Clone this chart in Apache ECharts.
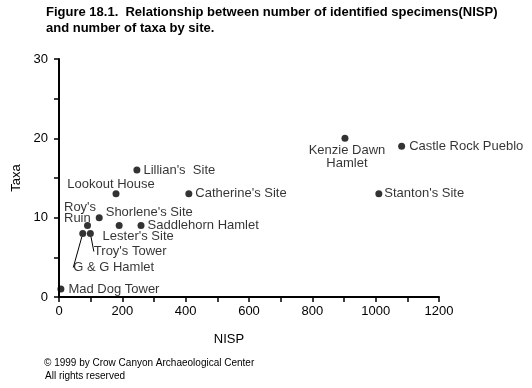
<!DOCTYPE html>
<html>
<head>
<meta charset="utf-8">
<script src="https://cdn.jsdelivr.net/npm/echarts@6/dist/echarts.min.js"></script>
<style>html,body{margin:0;padding:0;background:#fff;}#c{width:532px;height:388px;}</style>
</head>
<body>
<div id="c"></div>
<script>
// ---- data ----
var sites = ["Mad Dog Tower", "G & G Hamlet", "Troy's Tower", "Roy's Ruin", "Shorlene's Site", "Lester's Site", "Saddlehorn Hamlet", "Lookout House", "Lillian's Site", "Catherine's Site", "Kenzie Dawn Hamlet", "Stanton's Site", "Castle Rock Pueblo"];
var nisp = [6, 75, 99, 90, 127, 190, 259, 180, 246, 410, 903, 1010, 1082];
var taxa = [1, 8, 8, 9, 10, 9, 9, 13, 16, 13, 20, 13, 19];
var labelText = ["Mad Dog Tower", "G & G Hamlet", "Troy's Tower", "Roy's\nRuin", "Shorlene's Site", "Lester's Site", "Saddlehorn Hamlet", "Lookout House", "Lillian's  Site", "Catherine's Site", "Kenzie Dawn\nHamlet", "Stanton's Site", "Castle Rock Pueblo"];
var xTicks = [0, 200, 400, 600, 800, 1000, 1200];
var yTicks = [0, 10, 20, 30];

// ---- label styling (per site) ----
var labelStyle = {
  "Mad Dog Tower": {position: 'right', distance: 4},
  "G & G Hamlet": {position: 'right', distance: 4, move: [-17, 34], line: true},
  "Troy's Tower": {position: 'right', distance: 4, move: [-4, 18], line: true},
  "Roy's Ruin": {position: [-20, -20], align: 'left', verticalAlign: 'top', lineHeight: 11},
  "Shorlene's Site": {position: 'right', distance: 3, move: [0, -5]},
  "Lester's Site": {position: 'bottom', distance: 0, move: [19, 1]},
  "Saddlehorn Hamlet": {position: 'right', distance: 3},
  "Lookout House": {position: 'top', distance: 0, move: [-5, 1]},
  "Lillian's Site": {position: 'right', distance: 3},
  "Catherine's Site": {position: 'right', distance: 3},
  "Kenzie Dawn Hamlet": {position: 'bottom', distance: 2, move: [2, 0], lineHeight: 13, align: 'center'},
  "Stanton's Site": {position: 'right', distance: 2},
  "Castle Rock Pueblo": {position: 'right', distance: 4}
};

var font = 'Arial, "Liberation Sans", sans-serif';
var data = sites.map(function (s, i) {
  var st = labelStyle[s];
  var lab = {
    show: true,
    formatter: labelText[i],
    position: st.position,
    color: '#000',
    fontSize: 13,
    fontFamily: font
  };
  if (st.distance !== undefined) lab.distance = st.distance;
  if (st.align) lab.align = st.align;
  if (st.verticalAlign) lab.verticalAlign = st.verticalAlign;
  if (st.lineHeight) lab.lineHeight = st.lineHeight;
  return {
    name: s,
    value: [nisp[i], taxa[i]],
    label: lab,
    labelLine: {show: !!st.line, lineStyle: {color: '#000', width: 1}}
  };
});

var chart = echarts.init(document.getElementById('c'), null, {renderer: 'canvas'});
chart.setOption({
  backgroundColor: '#fff',
  animation: false,
  title: {
    text: 'Figure 18.1.  Relationship between number of identified specimens(NISP)\nand number of taxa by site.',
    left: 41, top: -1,
    textStyle: {fontSize: 13, fontWeight: 'bold', color: '#000', fontFamily: font, lineHeight: 16}
  },
  grid: {left: 59, right: 93, top: 59, bottom: 91},
  xAxis: {
    type: 'value', min: xTicks[0], max: xTicks[xTicks.length - 1], interval: xTicks[1] - xTicks[0],
    name: 'NISP', nameLocation: 'middle', nameGap: 36,
    nameTextStyle: {fontSize: 13, color: '#000', fontFamily: font, padding: [0, 40, 0, 0]},
    axisLine: {show: true, onZero: false, lineStyle: {color: '#000', width: 2}},
    axisTick: {show: true, length: 5, lineStyle: {color: '#000', width: 1.5}},
    minorTick: {show: true, splitNumber: 2, length: 5, lineStyle: {color: '#000', width: 1.5}},
    axisLabel: {fontSize: 13, color: '#000', fontFamily: font, margin: 8, formatter: function (v) { return String(v); }},
    splitLine: {show: false}
  },
  yAxis: {
    type: 'value', min: yTicks[0], max: yTicks[yTicks.length - 1], interval: yTicks[1] - yTicks[0],
    name: 'Taxa', nameLocation: 'middle', nameGap: 34, nameRotate: 90,
    nameTextStyle: {fontSize: 13, color: '#000', fontFamily: font},
    axisLine: {show: true, onZero: false, lineStyle: {color: '#000', width: 2}},
    axisTick: {show: true, length: 5, lineStyle: {color: '#000', width: 1.5}},
    minorTick: {show: true, splitNumber: 2, length: 5, lineStyle: {color: '#000', width: 1.5}},
    axisLabel: {fontSize: 13, color: '#000', fontFamily: font, margin: 11, formatter: function (v) { return String(v); }},
    splitLine: {show: false}
  },
  series: [{
    type: 'scatter',
    symbol: 'circle',
    symbolSize: 7,
    itemStyle: {color: '#000'},
    data: data,
    labelLayout: function (p) {
      var st = labelStyle[sites[p.dataIndex]];
      if (st && st.move) return {dx: st.move[0], dy: st.move[1]};
      return {};
    }
  }],
  graphic: [
    {type: 'text', left: 44, top: 358, style: {text: '\u00A9 1999 by Crow Canyon Archaeological Center', fontSize: 10, fill: '#000', fontFamily: font}},
    {type: 'text', left: 45, top: 371, style: {text: 'All rights reserved', fontSize: 10, fill: '#000', fontFamily: font}}
  ]
});
</script>
</body>
</html>
